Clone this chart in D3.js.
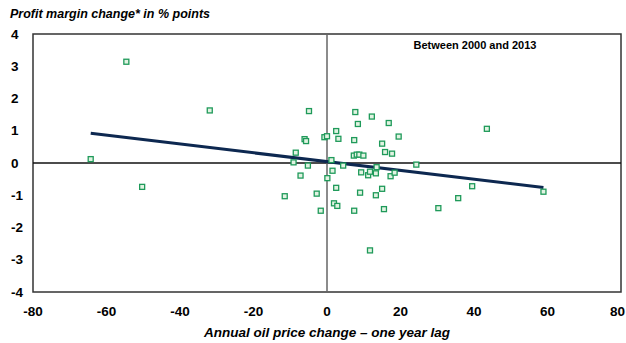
<!DOCTYPE html>
<html>
<head>
<meta charset="utf-8">
<script src="https://cdn.jsdelivr.net/npm/d3@7"></script>
<style>
  html, body { margin: 0; padding: 0; background: #fff; overflow: hidden; }
  svg { display: block; }
</style>
</head>
<body>
<div id="chart"></div>
<script>
// Scatter points: oil price change (x) vs margin change (y)
const oilChange = [
  -64.3, -54.6, -50.3, -31.9, -11.5, -9.1, -8.5, -7.2, -6.1, -5.7,
  -5.2, -4.9, -2.8, -1.7, -0.7, 0, 0.1, 1.2, 1.5, 1.9,
  2.5, 2.5, 2.8, 3.1, 4.4, 7.3, 7.4, 7.4, 7.7, 8.1,
  8.4, 8.8, 9.0, 9.3, 9.9, 11.2, 11.7, 11.7, 12.2, 13.3,
  13.3, 13.5, 15.0, 15.0, 15.5, 15.8, 16.8, 17.3, 17.7, 18.4,
  19.5, 24.3, 30.3, 35.7, 39.5, 43.5, 58.9
];
const marginChange = [
  0.12, 3.14, -0.74, 1.63, -1.03, 0.02, 0.32, -0.39, 0.74, 0.68,
  -0.08, 1.61, -0.95, -1.48, 0.80, 0.83, -0.47, 0.09, -0.24, -1.25,
  0.99, -0.77, -1.33, 0.75, -0.08, 0.23, 0.71, -1.48, 1.58, 0.26,
  1.21, 0.26, -0.92, -0.29, 0.23, -0.38, -0.27, -2.71, 1.44, -0.32,
  -1.00, -0.13, 0.60, -0.80, -1.43, 0.34, 1.24, -0.41, 0.29, -0.30,
  0.82, -0.05, -1.40, -1.09, -0.72, 1.06, -0.89
];

// Trend line end points
const trendX = [-64.3, 58.9];
const trendY = [0.92, -0.76];

const xTicks = [-80, -60, -40, -20, 0, 20, 40, 60, 80];
const yTicks = [-4, -3, -2, -1, 0, 1, 2, 3, 4];

const width = 626;
const height = 343;
const margin = { top: 34, right: 5, bottom: 51, left: 33 };
const innerWidth = width - margin.left - margin.right;
const innerHeight = height - margin.top - margin.bottom;
const font = "Liberation Sans, Arial, sans-serif";

const svg = d3.select("#chart").append("svg")
  .attr("width", width)
  .attr("height", height)
  .attr("font-family", font);

const g = svg.append("g")
  .attr("transform", `translate(${margin.left},${margin.top})`);

const x = d3.scaleLinear().domain([-80, 80]).range([0, innerWidth]);
const y = d3.scaleLinear().domain([-4, 4]).range([innerHeight, 0]);

// Plot frame
g.append("rect")
  .attr("width", innerWidth)
  .attr("height", innerHeight)
  .attr("fill", "none")
  .attr("stroke", "#333")
  .attr("stroke-width", 1.5);

// Zero lines
g.append("line")
  .attr("x1", 0).attr("x2", innerWidth)
  .attr("y1", y(0)).attr("y2", y(0))
  .attr("stroke", "#111")
  .attr("stroke-width", 1.5);

g.append("line")
  .attr("x1", x(0)).attr("x2", x(0))
  .attr("y1", 0).attr("y2", innerHeight)
  .attr("stroke", "#666")
  .attr("stroke-width", 1.5);

// Tick labels (no tick marks); plain hyphen for negatives
g.selectAll(".xlab")
  .data(xTicks)
  .enter()
  .append("text")
  .attr("class", "xlab")
  .attr("x", (d) => (d === 80 ? x(d) + 4 : x(d)))
  .attr("y", innerHeight + 24)
  .attr("text-anchor", (d) => (d === 80 ? "end" : "middle"))
  .style("font-size", "13.5px")
  .style("font-weight", "bold")
  .text((d) => String(d));

g.selectAll(".ylab")
  .data(yTicks)
  .enter()
  .append("text")
  .attr("class", "ylab")
  .attr("x", 11 - margin.left)
  .attr("y", (d) => y(d))
  .attr("dy", "0.35em")
  .style("font-size", "13.5px")
  .style("font-weight", "bold")
  .text((d) => String(d));

// Trend line
g.append("path")
  .datum(d3.zip(trendX, trendY))
  .attr("fill", "none")
  .attr("stroke", "#0d2850")
  .attr("stroke-width", 3)
  .attr("d", d3.line().x((d) => x(d[0])).y((d) => y(d[1])));

// Points
const s = 5;
g.selectAll(".pt")
  .data(d3.zip(oilChange, marginChange))
  .enter()
  .append("rect")
  .attr("class", "pt")
  .attr("x", (d) => x(d[0]) - s / 2)
  .attr("y", (d) => y(d[1]) - s / 2)
  .attr("width", s)
  .attr("height", s)
  .attr("fill", "#e2f3e2")
  .attr("stroke", "#1f9a5a")
  .attr("stroke-width", 1.3);

// Titles
svg.append("text")
  .attr("x", 10)
  .attr("y", 18)
  .style("font-size", "12.5px")
  .style("font-weight", "bold")
  .style("font-style", "italic")
  .text("Profit margin change* in % points");

svg.append("text")
  .attr("x", margin.left + x(0))
  .attr("y", 337)
  .attr("text-anchor", "middle")
  .style("font-size", "13.5px")
  .style("font-weight", "bold")
  .style("font-style", "italic")
  .text("Annual oil price change \u2013 one year lag");

g.append("text")
  .attr("x", 475 - margin.left)
  .attr("y", 49 - margin.top)
  .attr("text-anchor", "middle")
  .style("font-size", "11px")
  .style("font-weight", "bold")
  .text("Between 2000 and 2013");
</script>
</body>
</html>
